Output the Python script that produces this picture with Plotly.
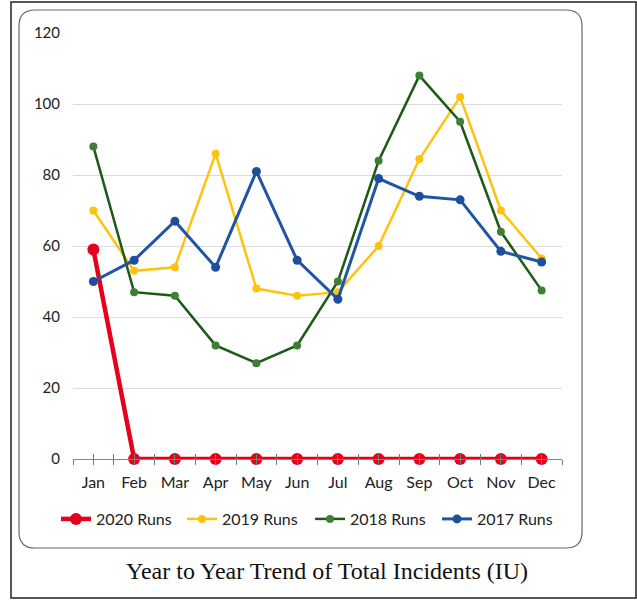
import plotly.graph_objects as go

months = ["Jan", "Feb", "Mar", "Apr", "May", "Jun", "Jul", "Aug", "Sep", "Oct", "Nov", "Dec"]
runs_2020 = [59, 0, 0, 0, 0, 0, 0, 0, 0, 0, 0, 0]
runs_2019 = [70, 53, 54, 86, 48, 46, 47, 60, 84.5, 102, 70, 56.5]
runs_2018 = [88, 47, 46, 32, 27, 32, 50, 84, 108, 95, 64, 47.5]
runs_2017 = [50, 56, 67, 54, 81, 56, 45, 79, 74, 73, 58.5, 55.5]
y_ticks = [0, 20, 40, 60, 80, 100, 120]

W, H = 637, 601
L, R, T, B = 73, 562, 33, 459  # plot area in pixels


def px(x):
    return (x - L) / (R - L)


def py(y):
    return (B - y) / (B - T)


xs = list(range(len(months)))
FONT = "Lato, 'Open Sans', sans-serif"

series = [
    ("2020 Runs", runs_2020, "#E5001C", "#E5001C", 4.5, 12, 55),
    ("2019 Runs", runs_2019, "#FFC20E", "#FFC20E", 2.5, 8, 181),
    ("2018 Runs", runs_2018, "#1E5A17", "#3F7F35", 2.5, 8, 309),
    ("2017 Runs", runs_2017, "#1F55A3", "#1D4F9C", 3, 9, 436),
]

fig = go.Figure()
legends = {}
for i, (name, vals, lc, mc, lw, ms, lx) in enumerate(series):
    key = "legend" if i == 0 else f"legend{i + 1}"
    fig.add_trace(go.Scatter(
        x=xs, y=vals, name=name, mode="lines+markers",
        line=dict(color=lc, width=lw),
        marker=dict(color=mc, size=ms),
        cliponaxis=False, legend=key,
    ))
    legends[key] = dict(orientation="h", xref="container", yref="container",
                        x=(lx + 1) / W, xanchor="left", y=1 - 519 / H, yanchor="middle",
                        font=dict(family=FONT, size=16, color="#222"),
                        bgcolor="rgba(0,0,0,0)")

half_ticks = [i / 2 - 0.5 for i in range(2 * len(months) + 1)]

# rounded chart-area border
x0, x1 = px(19), px(582)
y0, y1 = py(548), py(10)
rx, ry = 16 / (R - L), 16 / (B - T)
path = (f"M {x0+rx},{y1} L {x1-rx},{y1} Q {x1},{y1} {x1},{y1-ry} "
        f"L {x1},{y0+ry} Q {x1},{y0} {x1-rx},{y0} L {x0+rx},{y0} "
        f"Q {x0},{y0} {x0},{y0+ry} L {x0},{y1-ry} Q {x0},{y1} {x0+rx},{y1} Z")

fig.update_layout(
    width=W, height=H, autosize=False,
    margin=dict(l=L, r=W - R, t=T, b=H - B, autoexpand=False),
    paper_bgcolor="white", plot_bgcolor="white",
    font=dict(family=FONT, size=14, color="#222"),
    showlegend=True,
    xaxis=dict(
        range=[-0.5, len(months) - 0.5], tickmode="array",
        tickvals=half_ticks,
        ticktext=[months[int(v)] if v == int(v) and v >= 0 else "" for v in half_ticks],
        ticks="outside", ticklen=5, tickcolor="#777", tickwidth=1,
        showline=True, linecolor="#888", linewidth=1,
        showgrid=False, zeroline=False,
        tickfont=dict(family=FONT, size=16, color="#222"),
        ticklabelstandoff=4,
    ),
    xaxis2=dict(
        overlaying="x", anchor="y", side="bottom",
        range=[-0.5, len(months) - 0.5], tickmode="array", tickvals=half_ticks,
        ticks="inside", ticklen=5, tickcolor="#777", tickwidth=1,
        showticklabels=False, showline=False, showgrid=False, zeroline=False,
    ),
    yaxis=dict(
        range=[0, 120], tickmode="array", tickvals=y_ticks,
        showgrid=True, gridcolor="#dcdcdc", gridwidth=1,
        zeroline=False, showline=False, ticks="",
        tickfont=dict(family=FONT, size=15, color="#222"),
        ticklabelstandoff=12,
    ),
    shapes=[
        dict(type="path", xref="paper", yref="paper", path=path,
             line=dict(color="#666", width=1.2), layer="below"),
        dict(type="rect", xref="paper", yref="paper",
             x0=px(11), x1=px(636), y0=py(598), y1=py(2),
             line=dict(color="#222", width=1.5), layer="below"),
    ],
    annotations=[
        dict(text="Year to Year Trend of Total Incidents (IU)", xref="paper", yref="paper",
             x=px(327), y=py(571), xanchor="center", yanchor="middle", showarrow=False,
             font=dict(family="'Liberation Serif', 'DejaVu Serif', serif", size=24, color="#111")),
    ],
    **legends,
)
# invisible trace to make the overlay axis render its crossing ticks
fig.add_trace(go.Scatter(x=[xs[0]], y=[0], xaxis="x2", mode="markers",
                         marker=dict(opacity=0), showlegend=False, hoverinfo="skip"))

fig.write_html("out.html", config={"displayModeBar": False},
               post_script="document.body.style.margin='0';document.body.style.overflow='hidden';")
